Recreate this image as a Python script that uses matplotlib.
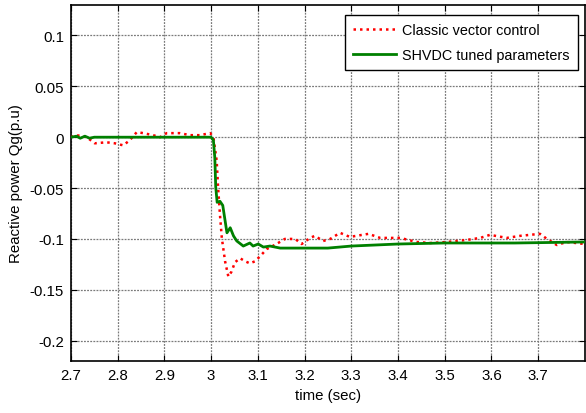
import matplotlib
matplotlib.use("Agg")
import matplotlib.pyplot as plt
from matplotlib.ticker import FixedLocator, FixedFormatter

plt.rcParams['font.family'] = ['Liberation Sans', 'DejaVu Sans']

# Classic vector control (red dotted)
t_classic = [2.70, 2.712, 2.734, 2.751, 2.776, 2.794, 2.812, 2.826, 2.841, 2.855,
             2.876, 2.891, 2.905, 2.933, 2.955, 2.976, 2.998, 3.005, 3.012, 3.015,
             3.019, 3.023, 3.030, 3.037, 3.044, 3.051, 3.062, 3.073, 3.083, 3.094,
             3.105, 3.119, 3.140, 3.158, 3.180, 3.194, 3.212, 3.222, 3.240, 3.255,
             3.276, 3.297, 3.337, 3.362, 3.405, 3.440, 3.469, 3.505, 3.547, 3.576,
             3.597, 3.633, 3.661, 3.704, 3.719, 3.740, 3.761, 3.80]
q_classic = [0.000, 0.002, 0.000, -0.006, -0.005, -0.006, -0.008, -0.003, 0.005, 0.004,
             0.002, 0.000, 0.004, 0.004, 0.002, 0.002, 0.004, 0.000, -0.023, -0.049,
             -0.076, -0.099, -0.122, -0.137, -0.132, -0.123, -0.119, -0.122, -0.124, -0.122,
             -0.117, -0.110, -0.105, -0.100, -0.100, -0.105, -0.099, -0.097, -0.102, -0.100,
             -0.094, -0.098, -0.095, -0.099, -0.099, -0.103, -0.104, -0.103, -0.101, -0.099,
             -0.096, -0.099, -0.097, -0.095, -0.100, -0.106, -0.103, -0.105]

# SHVDC tuned parameters (green solid)
t_tuned = [2.70, 2.712, 2.72, 2.73, 2.74, 2.75, 3.000, 3.005, 3.008, 3.010,
           3.013, 3.019, 3.025, 3.030, 3.034, 3.041, 3.048, 3.055, 3.069, 3.083,
           3.090, 3.101, 3.112, 3.126, 3.148, 3.25, 3.30, 3.40, 3.50, 3.65, 3.80]
q_tuned = [0.000, 0.001, -0.001, 0.001, -0.001, 0.000, 0.000, -0.003, -0.020, -0.049,
           -0.064, -0.063, -0.067, -0.082, -0.094, -0.089, -0.097, -0.102, -0.107, -0.104,
           -0.107, -0.105, -0.108, -0.107, -0.109, -0.109, -0.107, -0.105, -0.104, -0.104, -0.103]

x_ticks = [2.7, 2.8, 2.9, 3.0, 3.1, 3.2, 3.3, 3.4, 3.5, 3.6, 3.7]
x_labels = ['2.7', '2.8', '2.9', '3', '3.1', '3.2', '3.3', '3.4', '3.5', '3.6', '3.7']
y_ticks = [-0.2, -0.15, -0.1, -0.05, 0.0, 0.05, 0.1]
y_labels = ['-0.2', '-0.15', '-0.1', '-0.05', '0', '0.05', '0.1']

fig = plt.figure(figsize=(5.86, 4.14), dpi=100)
ax = fig.add_axes([0.121, 0.1256, 0.877, 0.86])

ax.plot(t_classic, q_classic, color='red', linestyle=(0, (1, 1.6)), linewidth=1.8,
        label='Classic vector control', zorder=3)
ax.plot(t_tuned, q_tuned, color='#008000', linestyle='-', linewidth=2.0,
        label='SHVDC tuned parameters', zorder=4)

ax.set_xlim(2.7, 3.8)
ax.set_ylim(-0.22, 0.13)
ax.xaxis.set_major_locator(FixedLocator(x_ticks))
ax.xaxis.set_major_formatter(FixedFormatter(x_labels))
ax.yaxis.set_major_locator(FixedLocator(y_ticks))
ax.yaxis.set_major_formatter(FixedFormatter(y_labels))

ax.grid(True, color='#7a7a7a', linestyle=(0, (1.5, 1)), linewidth=0.9)
ax.tick_params(direction='in', top=True, right=True, length=4, width=0.8,
               labelsize=10.8, pad=5)
for s in ax.spines.values():
    s.set_linewidth(1.2)
    s.set_color('black')

ax.set_xlabel('time (sec)', fontsize=10.8, labelpad=4)
ax.set_ylabel('Reactive power Qg(p.u)', fontsize=10.8, labelpad=5)

leg = ax.legend(loc='upper right', fontsize=10.4, frameon=True, fancybox=False,
                framealpha=1, edgecolor='black', borderaxespad=0.0,
                bbox_to_anchor=(0.986, 0.972),
                handlelength=3.0, borderpad=0.55, labelspacing=0.75, handletextpad=0.4)
leg.get_frame().set_linewidth(1.0)

fig.savefig('out.png', dpi=100)
